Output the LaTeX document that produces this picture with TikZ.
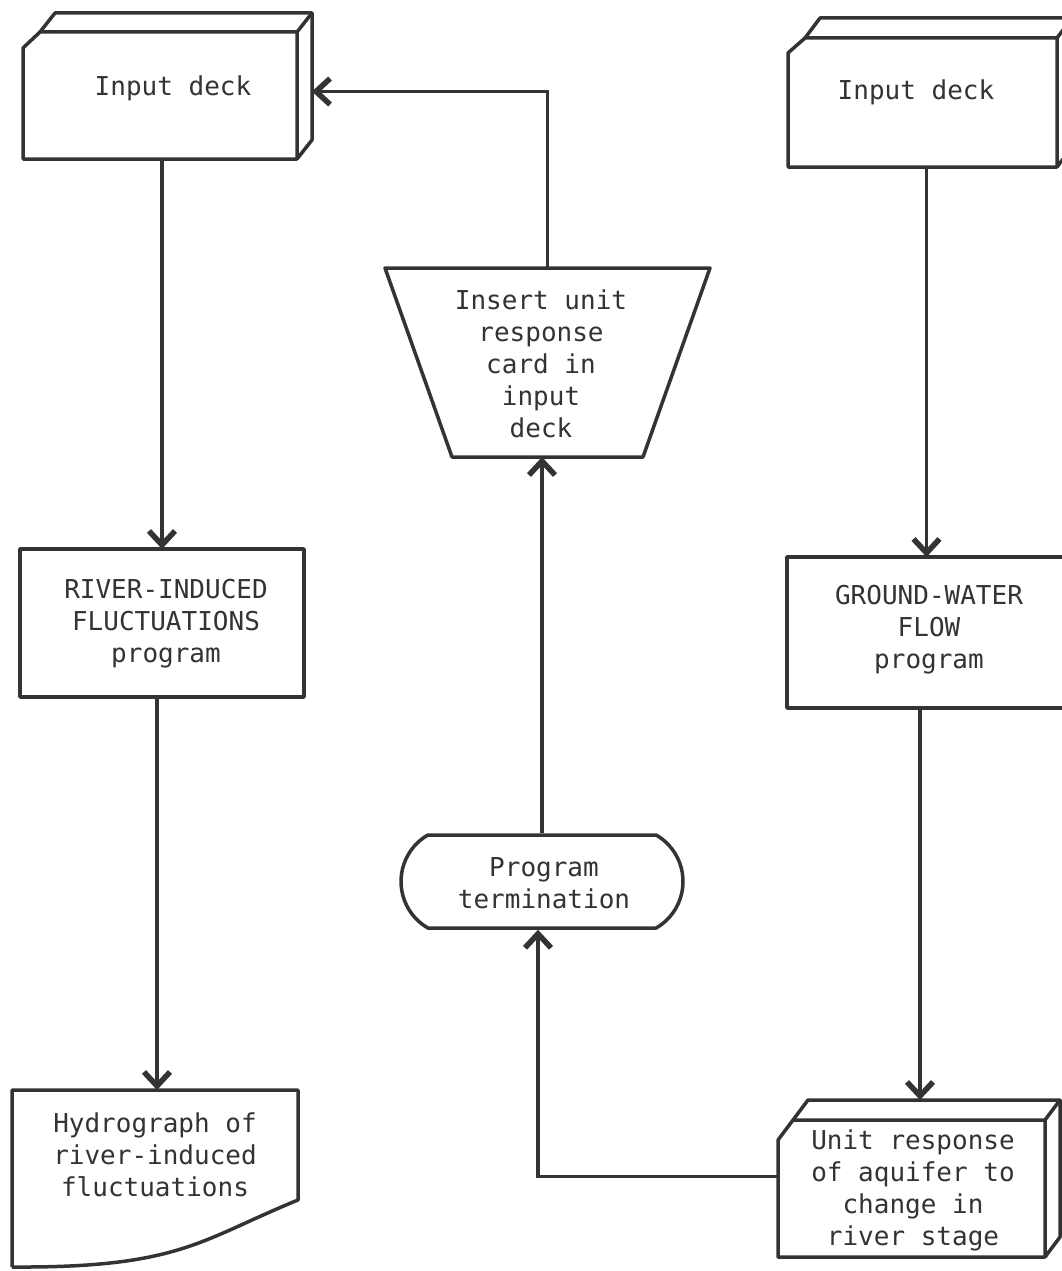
\documentclass[tikz,border=0pt]{standalone}
\usepackage{fontspec}
\setmonofont{DejaVu Sans Mono}
\usetikzlibrary{arrows.meta,calc,shapes.misc}
\definecolor{ink}{HTML}{333333}
\tikzset{
  outline/.style={draw=ink, line width=3.5pt, line join=round},
  face/.style={draw=none, rectangle, inner sep=0pt, outer sep=0pt},
  txt/.style={text=ink, font=\ttfamily\fontsize{26}{32}\selectfont, align=center, inner sep=0pt},
  arr/.style={draw=ink, line width=3.5pt, -{Straight Barb[length=14pt,width=26pt,line width=5.5pt]}},
  conn/.style={draw=ink, line width=3.5pt}
}
\newcommand\DeckOutline[5]{%
  \draw[outline] ($(#1.north west)+(0,#3)$) -- ($(#1.north west)+(#2,0)$) -- (#1.north east) -- (#1.south east) -- (#1.south west) -- cycle;
  \draw[outline] ($(#1.north west)+(#2,0)$) -- ++(#4,-#5) -- ($(#1.north east)+(#4,-#5)$) -- ($(#1.south east)+(#4,-#5)$) -- (#1.south east);
  \draw[outline] (#1.north east) -- ++(#4,-#5);
}
\begin{document}
\begin{tikzpicture}[x=1pt,y=-1pt]
\useasboundingbox[fill=white] (0,0) rectangle (1062,1271);

% Input deck (left)
\node[face, minimum width=274pt, minimum height=127pt] (deckL) at (160,95.5) {};
\DeckOutline{deckL}{17}{16}{15}{19}
\node[txt] (deckLtxt) at (173,88) {Input deck};

% Input deck (right)
\node[face, minimum width=269pt, minimum height=129pt] (deckR) at (922.5,102.5) {};
\DeckOutline{deckR}{17}{15}{15}{20}
\node[txt] (deckRtxt) at (916,92) {Input deck};

% River-induced fluctuations program
\node[face, outline, minimum width=284pt, minimum height=148pt] (river) at (162,623) {};
\node[txt] (rivertxt) at (166,623.5) {RIVER-INDUCED\\FLUCTUATIONS\\program};

% Ground-water flow program
\node[face, outline, minimum width=279pt, minimum height=151pt] (ground) at (926.5,632.5) {};
\node[txt] (groundtxt) at (929,629.5) {GROUND-WATER\\FLOW\\program};

% Hydrograph document
\node[face, minimum width=286pt, minimum height=177pt] (hydro) at (155,1178.5) {};
\draw[outline] (hydro.south west) -- (hydro.north west) -- (hydro.north east) -- ($(hydro.north east)+(0,110)$)
  .. controls (200,1240) and (180,1268) .. (hydro.south west);
\node[txt] (hydrotxt) at (155,1155) {Hydrograph of\\river-induced\\fluctuations};

% Unit response box
\node[face, minimum width=267pt, minimum height=137pt] (unit) at (911.5,1188.5) {};
\DeckOutline{unit}{15}{20}{15}{20}
\node[txt] (unittxt) at (913,1190) {Unit response\\of aquifer to\\change in\\river stage};
\coordinate (unitback) at ($(unit.north)+(8.5,-20)$);

% Program termination
\node[outline, rounded rectangle, rounded rectangle arc length=120, minimum width=282pt, minimum height=93pt, inner sep=0pt] (term) at (542,881.5) {};
\node[txt] (termtxt) at (544,883) {Program\\termination};

% Insert unit response card (trapezoid)
\node[face, minimum width=325pt, minimum height=189pt] (trap) at (547.5,362.5) {};
\draw[outline] (trap.north west) -- (trap.north east) -- ($(trap.south east)+(-67,0)$) -- ($(trap.south west)+(67,0)$) -- cycle;
\node[txt] (traptxt) at (541,364) {Insert unit\\response\\card in\\input\\deck};
\coordinate (deckLback) at ($(deckL.east)+(15,-4)$);

% Connectors
\draw[arr] (deckL.south -| river.north) -- (river.north);
\draw[arr] ($(river.south)+(-5,0)$) -- ($(hydro.north)+(2,0)$);
\draw[arr] (deckR.south -| ground.north) -- (ground.north);
\draw[arr] (ground.south -| unitback) -- (unitback);
\draw[arr] ($(unit.west)+(0,-12)$) -| ($(term.south)+(-4,0)$);
\draw[arr] (term.north) -- (term.north |- trap.south);
\draw[arr] (trap.north) |- (deckLback);
\end{tikzpicture}
\end{document}
